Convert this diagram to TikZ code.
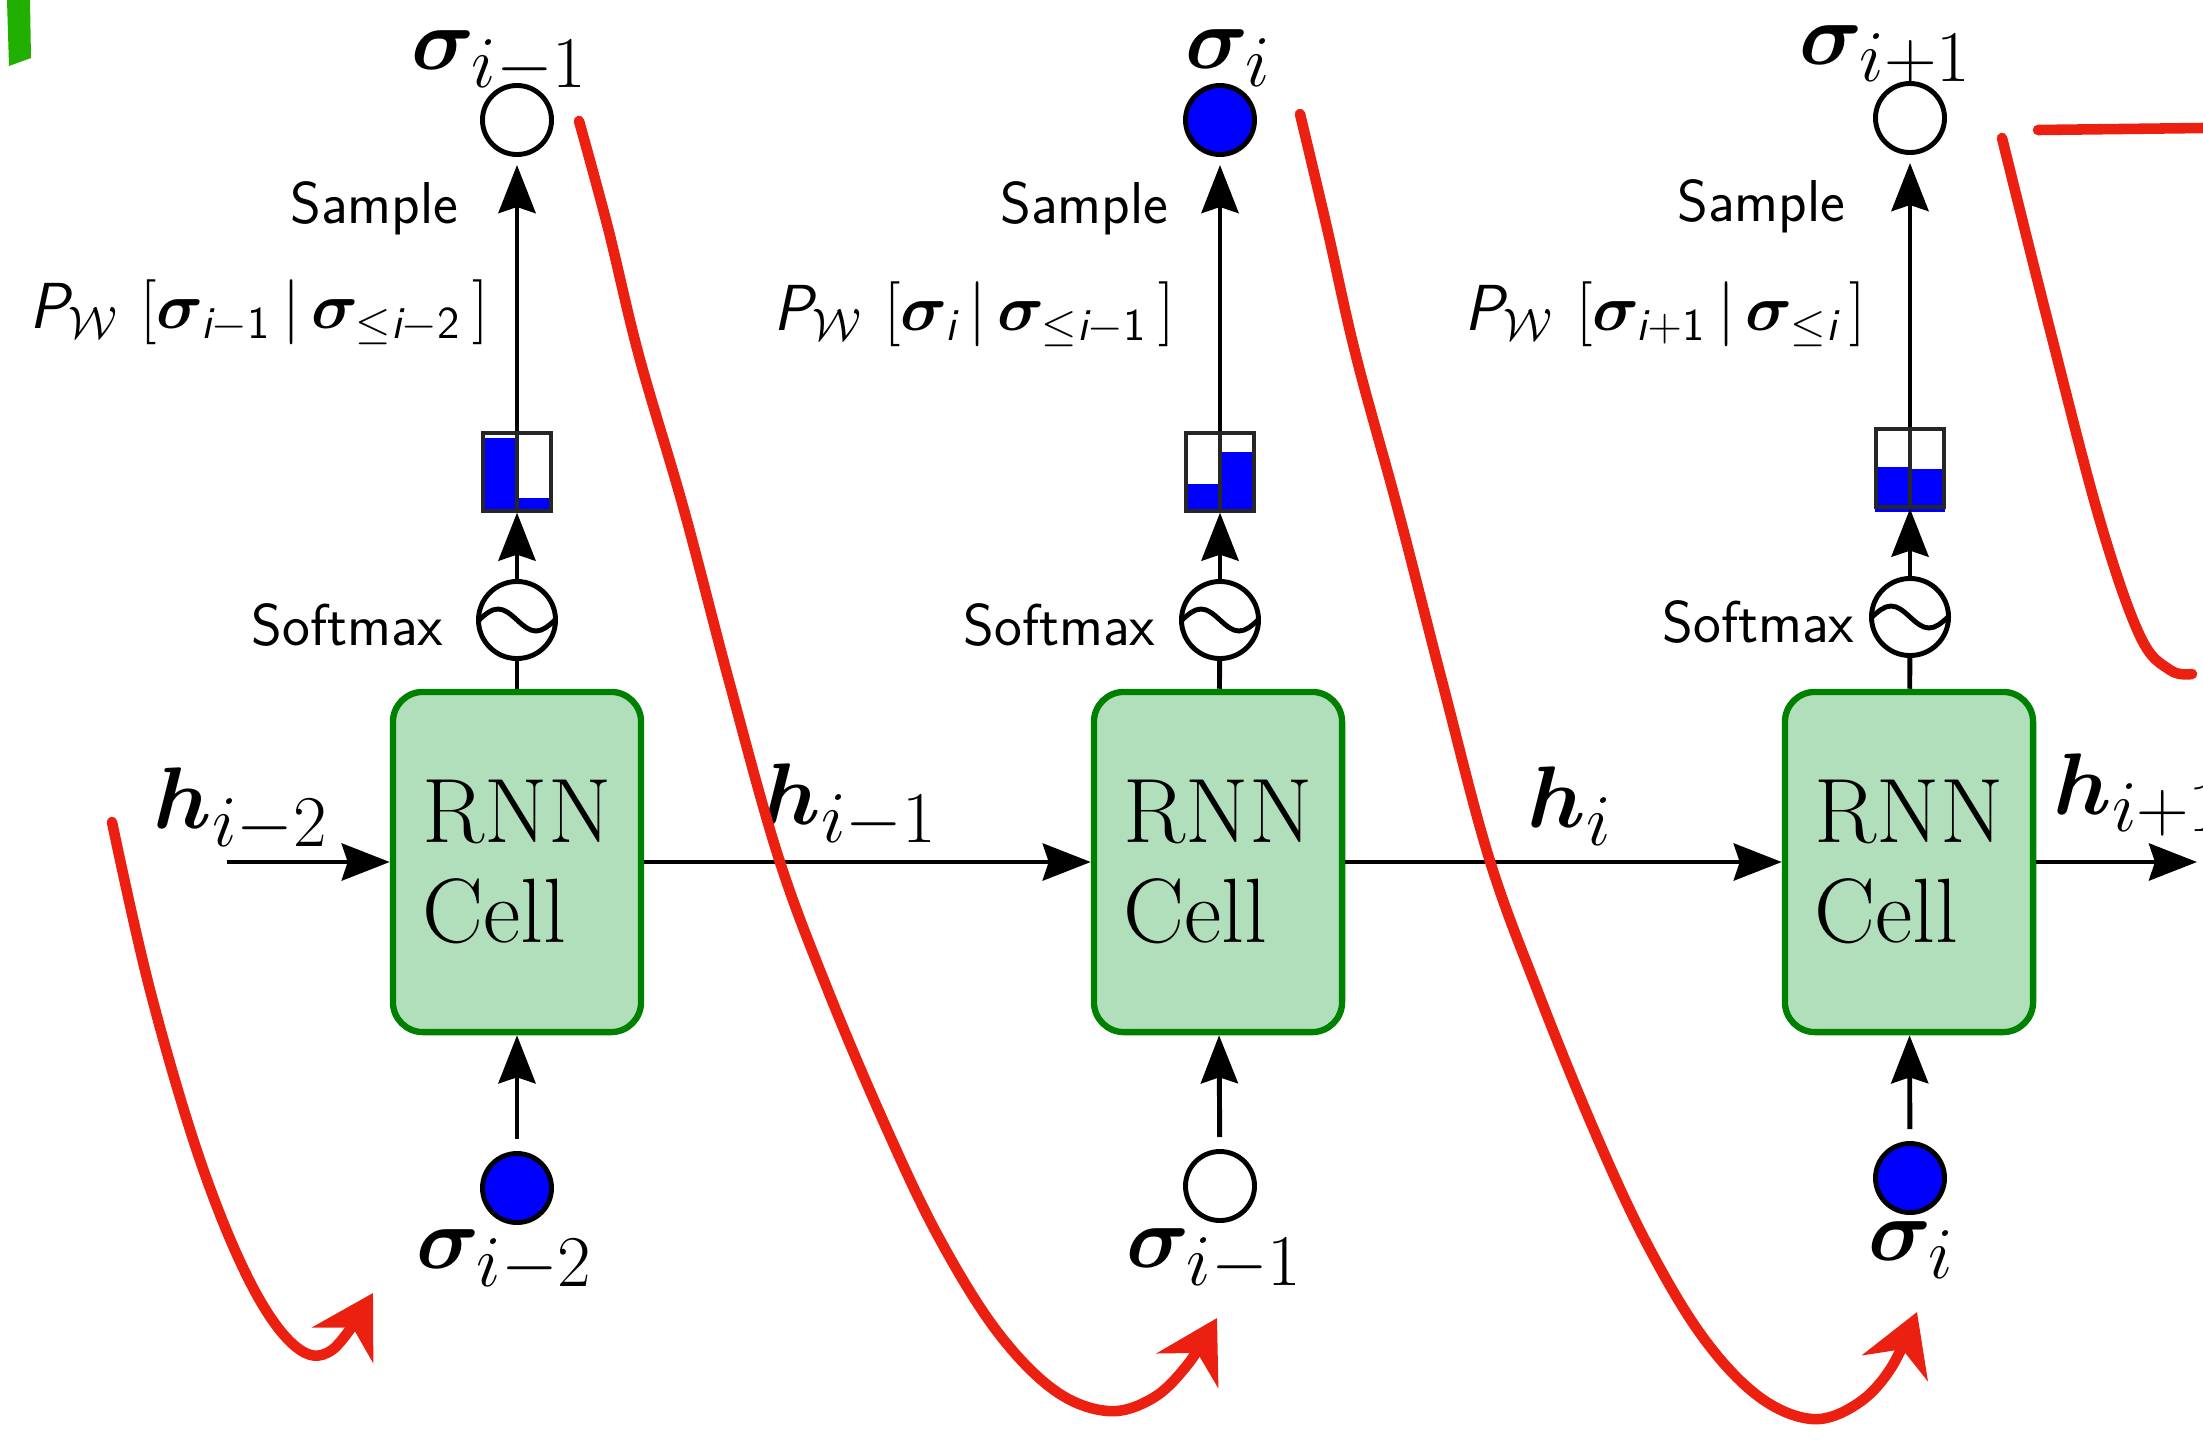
\RequirePackage{fix-cm}
\documentclass[tikz,border=0pt]{standalone}
\usepackage{amsmath,bm}
\usetikzlibrary{arrows.meta, positioning, calc}
\definecolor{CellGreen}{RGB}{0,128,0}
\definecolor{CellFill}{RGB}{178,223,187}
\definecolor{SpinBlue}{RGB}{0,0,255}
\definecolor{PenRed}{RGB}{236,32,16}
\definecolor{MarkGreen}{RGB}{34,176,0}
\newcommand{\sfi}{\textsf{\itshape i}}
\tikzset{
    % RNN cell boxes
    cell/.style={
        rectangle,
        rounded corners=0.3cm,
        draw=CellGreen,
        fill=CellFill,
        line width=1.8pt,
        minimum width=2.48cm,
        minimum height=3.4cm,
        align=left,
        font=\fontsize{26}{28.5}\selectfont
    },
    % spins and softmax
    spinempty/.style={
        circle,
        draw,
        fill=white,
        line width=1.4pt,
        minimum size=0.69cm,
        inner sep=0pt
    },
    spinfull/.style={spinempty, fill=SpinBlue},
    softmax/.style={
        circle,
        draw,
        line width=1.4pt,
        minimum size=0.77cm,
        inner sep=0pt
    },
    histbox/.style={
        rectangle,
        draw=black!85,
        line width=0.9pt,
        minimum width=0.68cm,
        minimum height=0.78cm,
        inner sep=0pt
    },
    bar/.style={fill=SpinBlue},
    % labels
    varlabel/.style={font=\fontsize{24.88}{30}\selectfont, inner sep=0pt},
    sflabel/.style={font=\sffamily\fontsize{16.8}{19}\selectfont, inner sep=0pt, anchor=east},
    problabel/.style={font=\sffamily\fontsize{18.5}{21}\selectfont, inner sep=0pt, anchor=east},
    % connectors
    arrow/.style={
        -{Stealth[length=4.8mm, width=3.7mm, inset=0.6mm]},
        line width=1.4pt
    },
    link/.style={line width=1.4pt},
    % red pen strokes
    pen/.style={draw=PenRed, line width=3pt, line cap=round, line join=round},
    penarrow/.style={pen, -{Stealth[length=6mm, width=7mm, inset=2mm]}}
}

\begin{document}
\begin{tikzpicture}[x=0.01cm, y=-0.01cm]
    \useasboundingbox (0,0) rectangle (2203,1439);

    % histogram bars
    \foreach \cx/\lf/\rf in {517/0.92/0.18, 1220/0.35/0.75, 1910/0.56/0.54} {
        \fill[bar] (\cx-35,512) rectangle (\cx,512-80*\lf);
        \fill[bar] (\cx,512) rectangle (\cx+35,512-80*\rf);
    }

    % column 1
    \node[cell] (box1) at (517,862) {RNN\\Cell};
    \node[softmax] (sm1) at (517,620) {};
    \node[histbox] (hist1) at (517,472) {};
    \node[spinempty] (top1) at (517,120) {};
    \node[spinfull] (bot1) at (517,1188) {};

    % column 2
    \node[cell] (box2) at (1218,862) {RNN\\Cell};
    \node[softmax] (sm2) at (1220,620) {};
    \node[histbox] (hist2) at (1220,472) {};
    \node[spinfull] (top2) at (1220,120) {};
    \node[spinempty] (bot2) at (1220,1186) {};

    % column 3
    \node[cell] (box3) at (1909,862) {RNN\\Cell};
    \node[softmax] (sm3) at (1910,617) {};
    \node[histbox] (hist3) at (1910,468) {};
    \node[spinempty] (top3) at (1910,118) {};
    \node[spinfull] (bot3) at (1910,1178) {};

    % spin labels
    \node[varlabel] (lt1) at (500,62) {$\bm{\sigma}_{i-1}$};
    \node[varlabel] (lt2) at (1229,58) {$\bm{\sigma}_{i}$};
    \node[varlabel] (lt3) at (1886,56) {$\bm{\sigma}_{i+1}$};
    \node[varlabel] (lb1) at (505,1261) {$\bm{\sigma}_{i-2}$};
    \node[varlabel] (lb2) at (1215,1260) {$\bm{\sigma}_{i-1}$};
    \node[varlabel] (lb3) at (1912,1250) {$\bm{\sigma}_{i}$};

    % hidden state labels
    \node[varlabel] (lh0) at (241,810) {$\bm{h}_{i-2}$};
    \node[varlabel] (lh1) at (850,806) {$\bm{h}_{i-1}$};
    \node[varlabel] (lh2) at (1570,806) {$\bm{h}_{i}$};
    \node[varlabel, anchor=west] (lh3) at (2053,795) {$\bm{h}_{i+1}$};

    % sample / probability / softmax labels
    \node[sflabel] (ls1) at (459,208) {Sample};
    \node[sflabel] (ls2) at (1169,208) {Sample};
    \node[sflabel] (ls3) at (1846,206) {Sample};
    \node[problabel] (lp1) at (489,312)
        {$\textsf{\itshape P}_{\mathcal{W}}\,\left[\bm{\sigma}_{\sfi-\textsf{1}}\,\middle|\,\bm{\sigma}_{\leq\sfi-\textsf{2}}\,\right]$};
    \node[problabel] (lp2) at (1175,314)
        {$\textsf{\itshape P}_{\mathcal{W}}\,\left[\bm{\sigma}_{\sfi}\,\middle|\,\bm{\sigma}_{\leq\sfi-\textsf{1}}\,\right]$};
    \node[problabel] (lp3) at (1866,314)
        {$\textsf{\itshape P}_{\mathcal{W}}\,\left[\bm{\sigma}_{\sfi+\textsf{1}}\,\middle|\,\bm{\sigma}_{\leq\sfi}\,\right]$};
    \node[sflabel] (lm1) at (444,625) {Softmax};
    \node[sflabel] (lm2) at (1156,625) {Softmax};
    \node[sflabel] (lm3) at (1855,622) {Softmax};

    % histogram dividers and softmax tildes
    \foreach \i in {1,2,3} {
        \draw[line width=0.9pt, draw=black!85] (hist\i.north) -- (hist\i.south);
        \draw[link] ($(sm\i.center)+(-38,0)$) sin ++(19,-11) cos ++(19,11)
            sin ++(19,11) cos ++(19,-11);
        \draw[link] (box\i) -- (sm\i);
        \draw[arrow] (sm\i) -- (hist\i);
        \draw[arrow, shorten >=0.8mm] (hist\i) -- (top\i);
        \draw[arrow, shorten <=1.2mm] (bot\i) -- (box\i);
    }

    % hidden state chain
    \coordinate (hin) at (227,862);
    \coordinate (hout) at (2197,862);
    \draw[arrow] (hin) -- (box1);
    \draw[arrow] (box1) -- (box2);
    \draw[arrow] (box2) -- (box3);
    \draw[arrow] (box3) -- (hout);

    % red pen strokes
    \draw[penarrow] plot[smooth, tension=0.6] coordinates
        {(112,822) (150,990) (200,1160) (250,1282) (295,1346) (332,1350) (373,1293)};
    \draw[penarrow] plot[smooth, tension=0.6] coordinates
        {(579,121) (608,228) (639,356) (684,510) (729,681) (778,856) (827,988)
         (885,1125) (938,1236) (996,1330) (1054,1390) (1108,1411) (1153,1398)
         (1188,1364) (1217,1318)};
    \draw[penarrow] plot[smooth, tension=0.6] coordinates
        {(1300,114) (1327,228) (1356,356) (1398,510) (1442,681) (1489,858)
         (1538,992) (1594,1130) (1646,1242) (1702,1336) (1758,1396) (1812,1419)
         (1857,1404) (1891,1368) (1917,1312)};
    \draw[pen] plot[smooth, tension=0.6] coordinates
        {(2002,138) (2050,330) (2100,521) (2140,636) (2170,670) (2192,674)};
    \draw[pen] (2038,130) -- (2203,128);

    % green marker
    \fill[MarkGreen] (7,0) -- (30,0) -- (31,58) -- (20,62) -- (9,66) -- cycle;
\end{tikzpicture}
\end{document}
